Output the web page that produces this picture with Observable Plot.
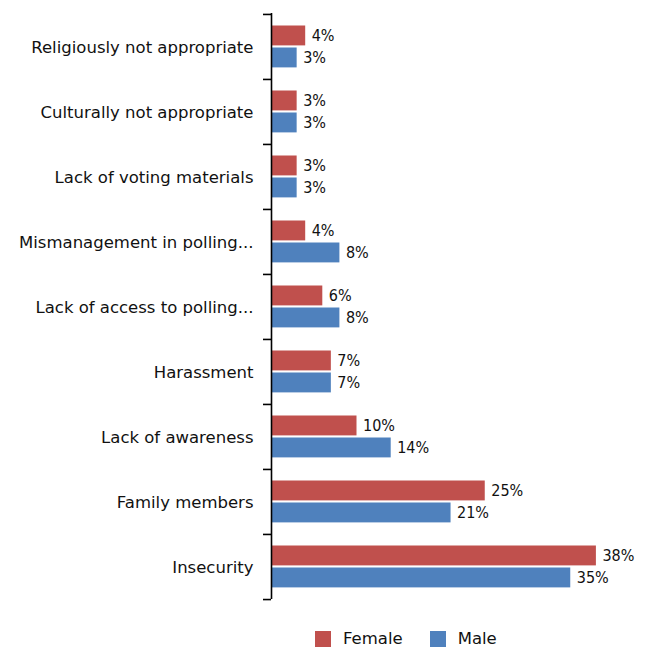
<!DOCTYPE html>
<html>
<head>
<meta charset="utf-8">
<script src="https://cdn.jsdelivr.net/npm/d3@7"></script>
<script src="https://cdn.jsdelivr.net/npm/@observablehq/plot@0.6"></script>
<style>
  body { margin: 0; background: #fff; font-family: 'DejaVu Sans', sans-serif; }
  #wrap { position: relative; width: 657px; height: 649px; overflow: hidden; }
  #legend { position: absolute; left: 315px; top: 630px; display: flex; align-items: center; font-size: 16.5px; line-height: 18px; color: #111; }
  .sw { width: 16px; height: 16px; display: inline-block; margin-right: 12px; }
  .item { display: flex; align-items: center; margin-right: 27px; }
</style>
</head>
<body>
<div id="wrap">
  <div id="chart"></div>
  <div id="legend"></div>
</div>
<script>
const categories = ["Religiously not appropriate", "Culturally not appropriate", "Lack of voting materials", "Mismanagement in polling...", "Lack of access to polling...", "Harassment", "Lack of awareness", "Family members", "Insecurity"];
const female = [4, 3, 3, 4, 6, 7, 10, 25, 38];
const male = [3, 3, 3, 8, 8, 7, 14, 21, 35];
const series = ["Female", "Male"];
const colors = ["#C0504D", "#4F81BD"];

const femaleData = categories.map((c, i) => ({category: c, sex: series[0], value: female[i]}));
const maleData = categories.map((c, i) => ({category: c, sex: series[1], value: male[i]}));

const width = 657, height = 605, marginTop = 13, marginBottom = 6, marginLeft = 271, marginRight = 44;
const band = (height - marginTop - marginBottom) / categories.length;
const pxPerUnit = (width - marginLeft - marginRight) / 40;

const chart = Plot.plot({
  width, height, marginTop, marginBottom, marginLeft, marginRight,
  style: {fontFamily: "'DejaVu Sans Condensed', 'DejaVu Sans', sans-serif", fontSize: "16px", color: "#111", background: "#fff"},
  x: {domain: [0, 40], axis: null},
  y: {domain: categories, padding: 0, label: null},
  marks: [
    Plot.barX(femaleData, {x: "value", y: "category", fill: colors[0], insetTop: 11.5, insetBottom: band - 31.5}),
    Plot.barX(maleData, {x: "value", y: "category", fill: colors[1], insetTop: 33.5, insetBottom: band - 53.5}),
    Plot.text(femaleData, {x: "value", y: "category", text: d => d.value + "%", dx: 6, dy: -(band / 2 - 21.5), textAnchor: "start", fill: "#111", fontSize: 16}),
    Plot.text(maleData, {x: "value", y: "category", text: d => d.value + "%", dx: 6, dy: 43.5 - band / 2, textAnchor: "start", fill: "#111", fontSize: 16}),
    Plot.ruleX([0], {stroke: "#000", strokeWidth: 1.6}),
    Plot.ruleY(categories, {y: d => d, x1: -8 / pxPerUnit, x2: 0, dy: -band / 2, stroke: "#000", strokeWidth: 1.6}),
    Plot.ruleY(categories.slice(-1), {y: d => d, x1: -8 / pxPerUnit, x2: 0, dy: band / 2, stroke: "#000", strokeWidth: 1.6}),
    Plot.axisY({tickSize: 0, tickPadding: 18, fontSize: 16.5, fontFamily: "'DejaVu Sans', sans-serif", fill: "#111", dy: 1})
  ]
});
document.getElementById("chart").appendChild(chart);

const legend = document.getElementById("legend");
series.forEach((s, i) => {
  const item = document.createElement("div");
  item.className = "item";
  const sw = document.createElement("span");
  sw.className = "sw";
  sw.style.background = colors[i];
  item.appendChild(sw);
  item.appendChild(document.createTextNode(s));
  legend.appendChild(item);
});
</script>
</body>
</html>
